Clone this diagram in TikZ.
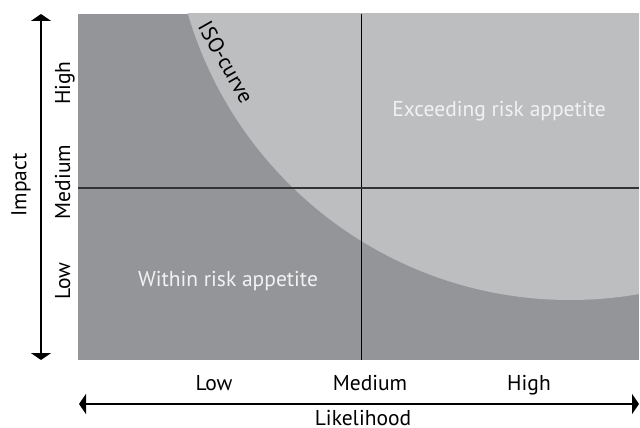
\documentclass[tikz,border=0pt]{standalone}
\usepackage{fontspec}
\setmainfont{PT Sans}
\usetikzlibrary{arrows.meta}
\definecolor{RiskDark}{HTML}{939598}
\definecolor{RiskLight}{HTML}{BCBEC0}
\definecolor{RiskText}{HTML}{F1F2F2}

\begin{document}
\begin{tikzpicture}[x=1pt,y=-1pt]
  \tikzstyle{axis}=[line width=2.6pt,
    {Triangle[width=20pt,length=7pt]}-{Triangle[width=20pt,length=7pt]}]
  \tikzstyle{lbl}=[inner sep=0pt,anchor=base,
    font=\fontsize{21.5}{25}\selectfont]
  \tikzstyle{zone}=[lbl,text=RiskText]
  \useasboundingbox (0,0) rectangle (640,428);

  % risk matrix with the iso-curve cutting it
  \coordinate (nw) at (78,14);
  \coordinate (se) at (639,360);
  \fill[RiskDark] (nw) rectangle (se);
  \begin{scope}
    \clip (nw) rectangle (se);
    \fill[RiskLight] (570,-98) circle[radius=398pt];
  \end{scope}

  % dividers
  \coordinate (vtop) at (361,14);
  \coordinate (vbot) at (361,360);
  \coordinate (hleft) at (78,188);
  \coordinate (hright) at (639,188);
  \draw[line width=1pt] (vtop)--(vbot);
  \draw[line width=1.6pt,color=black!80] (hleft)--(hright);

  % axes
  \coordinate (ytop) at (41,14);
  \coordinate (ybot) at (41,360);
  \coordinate (xleft) at (79,404);
  \coordinate (xright) at (639,404);
  \draw[axis] (ybot)--(ytop);
  \draw[axis] (xleft)--(xright);

  \node[lbl,rotate=90] (impact) at (26.5,185) {Impact};
  \node[lbl,rotate=90] (ihigh) at (70,83) {High};
  \node[lbl,rotate=90] (imed) at (70,182) {Medium};
  \node[lbl,rotate=90] (ilow) at (70,281) {Low};
  \node[lbl] (llow) at (214,390) {Low};
  \node[lbl] (lmed) at (370,390) {Medium};
  \node[lbl] (lhigh) at (529,390) {High};
  \node[lbl] (likely) at (363,425.5) {Likelihood};

  \node[zone] (within) at (228,286) {Within risk appetite};
  \node[zone] (exceed) at (499,116.5) {Exceeding risk appetite};
  \node[lbl,anchor=center,rotate=-60.5] (iso) at (226,62) {ISO-curve};
\end{tikzpicture}
\end{document}
